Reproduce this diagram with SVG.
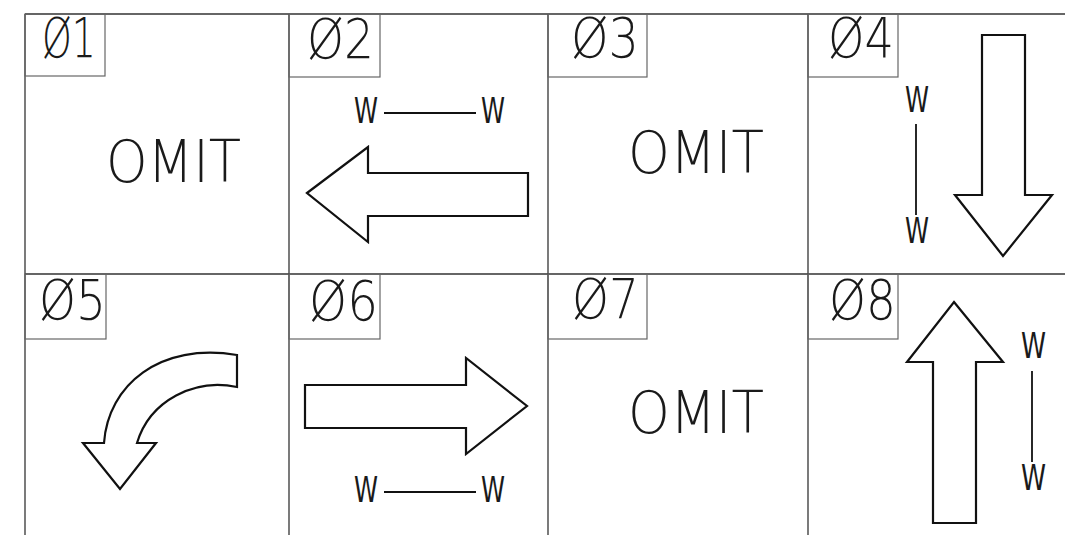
<svg xmlns="http://www.w3.org/2000/svg" width="1065" height="535" viewBox="0 0 1065 535">
<style>
.grid{stroke:#333;stroke-width:1.3;fill:none}
.lbox{stroke:#666;stroke-width:1.2;fill:none}
.arrow{stroke:#111;stroke-width:2.2;fill:#fff;stroke-linejoin:miter}
.dim{stroke:#111;stroke-width:1.8}
.t{font-family:"DejaVu Sans","Liberation Sans",sans-serif;font-weight:200;fill:#1a1a1a}
.lab{font-size:55px}
.om{font-size:58px}
.w{font-size:35px;font-weight:400}
</style>
<rect width="1065" height="535" fill="#fff"/>
<g id="grid">
<line class="grid" x1="25" y1="14" x2="1065" y2="14"/>
<line class="grid" x1="25" y1="274" x2="1065" y2="274"/>
<line class="grid" x1="25" y1="14" x2="25" y2="535"/>
<line class="grid" x1="289" y1="14" x2="289" y2="535"/>
<line class="grid" x1="548" y1="14" x2="548" y2="535"/>
<line class="grid" x1="808" y1="14" x2="808" y2="535"/>
</g>
<g id="cell01">
<rect class="lbox" x="25" y="14" width="80" height="62"/>
<text class="t lab" x="42" y="57" textLength="54" lengthAdjust="spacingAndGlyphs">Ø1</text>
<text class="t om" x="106" y="182" textLength="135" lengthAdjust="spacingAndGlyphs">OMIT</text>
</g>
<g id="cell02">
<rect class="lbox" x="289" y="14" width="91" height="63"/>
<text class="t lab" x="307" y="58" textLength="67" lengthAdjust="spacingAndGlyphs">Ø2</text>
<text class="t w" x="354" y="123" textLength="24" lengthAdjust="spacingAndGlyphs">W</text>
<text class="t w" x="481" y="123" textLength="24" lengthAdjust="spacingAndGlyphs">W</text>
<line class="dim" x1="384" y1="113" x2="476" y2="113"/>
<polygon class="arrow" points="307,193 368,147 368,173 528,173 528,216 368,216 368,242"/>
</g>
<g id="cell03">
<rect class="lbox" x="548" y="14" width="99" height="63"/>
<text class="t lab" x="571" y="57" textLength="68" lengthAdjust="spacingAndGlyphs">Ø3</text>
<text class="t om" x="628" y="173" textLength="136" lengthAdjust="spacingAndGlyphs">OMIT</text>
</g>
<g id="cell04">
<rect class="lbox" x="808" y="14" width="90" height="63"/>
<text class="t lab" x="828" y="57" textLength="66" lengthAdjust="spacingAndGlyphs">Ø4</text>
<text class="t w" x="905" y="112" textLength="24" lengthAdjust="spacingAndGlyphs">W</text>
<text class="t w" x="905" y="243" textLength="24" lengthAdjust="spacingAndGlyphs">W</text>
<line class="dim" x1="916" y1="124" x2="916" y2="215"/>
<polygon class="arrow" points="982,35 1025,35 1025,195 1052,195 1003,256 955,195 982,195"/>
</g>
<g id="cell05">
<rect class="lbox" x="25" y="274" width="81" height="65"/>
<text class="t lab" x="39" y="319" textLength="67" lengthAdjust="spacingAndGlyphs">Ø5</text>
<path class="arrow" d="M104,443 L83,443 L120,489 L156,443 L137,443 C150,400 195,378 237,387 L237,355 C160,342 108,385 104,443 Z"/>
</g>
<g id="cell06">
<rect class="lbox" x="289" y="274" width="91" height="65"/>
<text class="t lab" x="309" y="320" textLength="69" lengthAdjust="spacingAndGlyphs">Ø6</text>
<polygon class="arrow" points="305,385 466,385 466,358 527,406 466,454 466,428 305,428"/>
<text class="t w" x="354" y="502" textLength="24" lengthAdjust="spacingAndGlyphs">W</text>
<text class="t w" x="481" y="502" textLength="24" lengthAdjust="spacingAndGlyphs">W</text>
<line class="dim" x1="384" y1="492" x2="476" y2="492"/>
</g>
<g id="cell07">
<rect class="lbox" x="548" y="274" width="99" height="65"/>
<text class="t lab" x="572" y="318" textLength="67" lengthAdjust="spacingAndGlyphs">Ø7</text>
<text class="t om" x="628" y="433" textLength="136" lengthAdjust="spacingAndGlyphs">OMIT</text>
</g>
<g id="cell08">
<rect class="lbox" x="808" y="274" width="90" height="65"/>
<text class="t lab" x="829" y="319" textLength="67" lengthAdjust="spacingAndGlyphs">Ø8</text>
<polygon class="arrow" points="954,302 1003,362 976,362 976,523 933,523 933,362 907,362"/>
<text class="t w" x="1021" y="358" textLength="25" lengthAdjust="spacingAndGlyphs">W</text>
<text class="t w" x="1021" y="490" textLength="25" lengthAdjust="spacingAndGlyphs">W</text>
<line class="dim" x1="1032" y1="371" x2="1032" y2="462"/>
</g>
</svg>
